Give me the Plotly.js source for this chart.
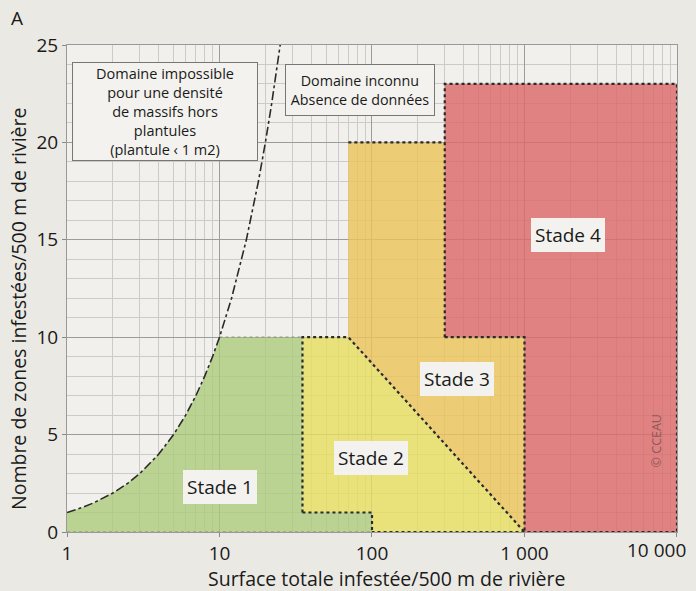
<!DOCTYPE html>
<html><head><meta charset="utf-8">
<script src="https://cdn.plot.ly/plotly-3.0.1.min.js"></script>
<style>html,body{margin:0;padding:0;background:#ebe9e4;}</style>
</head><body><div id="chart" style="width:696px;height:591px;"></div>
<script>
// Limit curve of the impossible domain (surface = number of zones, plantule < 1 m2)
const curveX = [1, 1.25, 1.5, 2, 2.5, 3, 4, 5, 6, 7, 8, 9, 10, 12, 15, 18, 20, 22, 25];
const curveY = [1, 1.25, 1.5, 2, 2.5, 3, 4, 5, 6, 7, 8, 9, 10, 12, 15, 18, 20, 22, 25];

// Stage polygons (x = surface, y = number of zones)
const stade1X = [1, 1, 1.25, 1.5, 2, 2.5, 3, 4, 5, 6, 7, 8, 9, 10, 35, 35, 100, 100, 1];
const stade1Y = [0, 1, 1.25, 1.5, 2, 2.5, 3, 4, 5, 6, 7, 8, 9, 10, 10, 1, 1, 0, 0];
const stade2X = [35, 35, 70, 1000, 100, 100, 35];
const stade2Y = [1, 10, 10, 0, 0, 1, 1];
const stade3X = [70, 70, 300, 300, 1000, 1000, 70];
const stade3Y = [10, 20, 20, 10, 10, 0, 10];
const stade4X = [300, 300, 10000, 10000, 1000, 1000, 300];
const stade4Y = [10, 23, 23, 0, 0, 10, 10];

// Dotted boundaries
const borderDarkX = [[35, 35, 70, 1000], [35, 100, 100], [70, 300], [300, 300, 10000, 10000, 100], [300, 1000, 1000]];
const borderDarkY = [[1, 10, 10, 0], [1, 1, 0], [20, 20], [10, 23, 23, 0, 0], [10, 10, 0]];
const borderLightX = [[10, 35], [1, 100]];
const borderLightY = [[10, 10], [0, 0]];

const xTickVals = [1, 10, 100, 1000, 10000];
const xTickText = ["1", "10", "100", "1 000", ""];
const lastXTickText = "10 000";
const yTickVals = [0, 5, 10, 15, 20, 25];

const xTitle = "Surface totale infestée/500 m de rivière";
const yTitle = "Nombre de zones infestées/500 m de rivière";

const stageLabels = ["Stade 1", "Stade 2", "Stade 3", "Stade 4"];
const stageLabelX = [10, 98, 362, 1918];
const stageLabelY = [2.3, 3.8, 7.85, 15.25];

const FONT = "Open Sans, Noto Sans, sans-serif";
const PL = 67, PR = 677, PT = 45, PB = 532;
const px2x = p => (p - PL) / (PR - PL);
const px2y = p => (PB - p) / (PB - PT);

const traces = [];
function poly(x, y, color) {
  traces.push({x: x, y: y, type: "scatter", mode: "lines", fill: "toself",
    fillcolor: color, line: {width: 0}, hoverinfo: "skip", showlegend: false});
}
poly(stade1X, stade1Y, "rgba(170,202,122,0.78)");
poly(stade2X, stade2Y, "rgba(230,221,95,0.82)");
poly(stade3X, stade3Y, "rgba(234,195,90,0.82)");
poly(stade4X, stade4Y, "rgba(221,105,106,0.82)");

borderLightX.forEach((bx, i) => traces.push({x: bx, y: borderLightY[i], type: "scatter", mode: "lines",
  line: {color: "#9a9a8a", width: 1.5, dash: "dot"}, hoverinfo: "skip", showlegend: false}));
borderDarkX.forEach((bx, i) => traces.push({x: bx, y: borderDarkY[i], type: "scatter", mode: "lines",
  line: {color: "#2a2a2a", width: 2.2, dash: "dot"}, hoverinfo: "skip", showlegend: false}));

traces.push({x: curveX, y: curveY, type: "scatter", mode: "lines",
  line: {color: "#2a2a2a", width: 1.6, dash: "dashdot"}, hoverinfo: "skip", showlegend: false});

const annotations = stageLabels.map((t, i) => ({
  x: Math.log10(stageLabelX[i]), y: stageLabelY[i], xref: "x", yref: "y", text: t, showarrow: false,
  font: {family: FONT, size: 19, color: "#1a1a1a"}, bgcolor: "#f3f2ee", borderpad: 4, borderwidth: 0
}));
annotations.push({
  x: 0.645, y: 21.6, xref: "x", yref: "y", showarrow: false,
  text: "Domaine impossible<br>pour une densité<br>de massifs hors<br>plantules<br>(plantule ‹ 1 m2)",
  font: {family: FONT, size: 14.5, color: "#1a1a1a"}, bgcolor: "#f3f2ee", bordercolor: "#777",
  borderwidth: 1, borderpad: 2, width: 180, height: 93
});
annotations.push({
  x: 1.921, y: 22.69, xref: "x", yref: "y", showarrow: false,
  text: "Domaine inconnu<br>Absence de données",
  font: {family: FONT, size: 14.3, color: "#1a1a1a"}, bgcolor: "#f3f2ee", bordercolor: "#777",
  borderwidth: 1, borderpad: 2, width: 144, height: 46
});
annotations.push({
  x: 3.862, y: 4.7, xref: "x", yref: "y", showarrow: false, textangle: -90,
  text: "© CCEAU", font: {family: FONT, size: 12.5, color: "#8a5a5a"}
});
annotations.push({
  x: px2x(17), y: px2y(18), xref: "paper", yref: "paper",
  xanchor: "center", yanchor: "middle", showarrow: false, text: "A",
  font: {family: FONT, size: 19, color: "#1a1a1a"}
});
// last x tick label, kept inside the figure like the reference
annotations.push({
  x: px2x(688), y: px2y(550), xref: "paper", yref: "paper",
  xanchor: "right", yanchor: "middle", showarrow: false, text: lastXTickText,
  font: {family: FONT, size: 19, color: "#1a1a1a"}
});
// axis titles
annotations.push({
  x: px2x(386), y: px2y(578), xref: "paper", yref: "paper",
  xanchor: "center", yanchor: "middle", showarrow: false, text: xTitle,
  font: {family: FONT, size: 19.5, color: "#1a1a1a"}
});
annotations.push({
  x: px2x(18), y: px2y(309), xref: "paper", yref: "paper",
  xanchor: "center", yanchor: "middle", showarrow: false, text: yTitle, textangle: -90,
  font: {family: FONT, size: 19.5, color: "#1a1a1a"}
});

const layout = {
  width: 696, height: 591,
  margin: {l: 67, r: 19, t: 45, b: 59},
  paper_bgcolor: "#ebe9e4", plot_bgcolor: "#f1f0ec",
  font: {family: FONT, size: 17, color: "#1a1a1a"},
  xaxis: {
    type: "log", range: [0, 4.0001], tickvals: xTickVals, ticktext: xTickText,
    showgrid: true, gridcolor: "#9c9c9c", gridwidth: 1,
    minor: {dtick: "D1", showgrid: true, gridcolor: "#cbcbc7", gridwidth: 1, ticks: ""},
    ticks: "outside", ticklen: 4, tickcolor: "#888",
    showline: true, linecolor: "#999", mirror: true, zeroline: false,
    tickfont: {family: FONT, size: 19, color: "#1a1a1a"}
  },
  yaxis: {
    range: [0, 25], tickvals: yTickVals,
    showgrid: true, gridcolor: "#9c9c9c", gridwidth: 1,
    minor: {dtick: 1, showgrid: true, gridcolor: "#cbcbc7", gridwidth: 1, ticks: ""},
    ticks: "outside", ticklen: 4, tickcolor: "#888",
    showline: true, linecolor: "#999", mirror: true, zeroline: false,
    tickfont: {family: FONT, size: 19, color: "#1a1a1a"}
  },
  annotations: annotations,
  showlegend: false
};

Plotly.newPlot("chart", traces, layout, {displayModeBar: false, staticPlot: true});
</script></body></html>
